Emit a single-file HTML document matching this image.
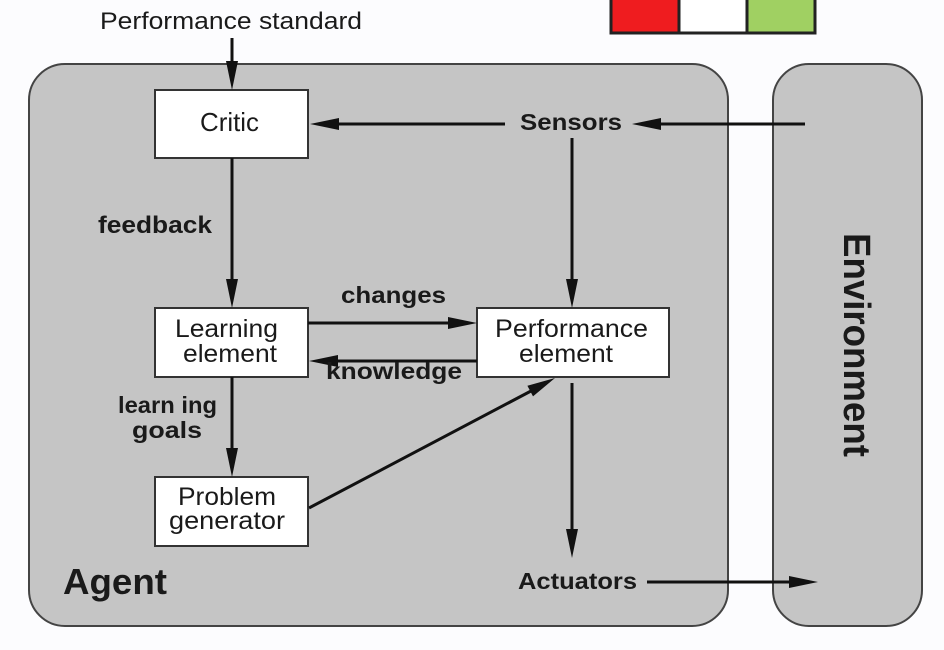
<!DOCTYPE html>
<html><head><meta charset="utf-8"><style>
html,body{margin:0;padding:0;background:#fcfcfe;}
svg{display:block;}
text{font-family:"Liberation Sans",Arial,sans-serif;fill:#1a1a1a;}
.b{font-weight:bold;}
</style></head><body>
<svg width="944" height="650" viewBox="0 0 944 650" xmlns="http://www.w3.org/2000/svg">
<rect x="0" y="0" width="944" height="650" fill="#fcfcfe"/>
<!-- swatches -->
<rect x="611" y="-3" width="68" height="36" fill="#ef1c1f" stroke="#222" stroke-width="3"/>
<rect x="679" y="-3" width="68" height="36" fill="#ffffff" stroke="#222" stroke-width="3"/>
<rect x="747" y="-3" width="68" height="36" fill="#a0d062" stroke="#222" stroke-width="3"/>
<!-- big boxes -->
<rect x="29" y="64" width="699" height="562" rx="36" ry="36" fill="#c5c5c5" stroke="#444" stroke-width="2"/>
<rect x="773" y="64" width="149" height="562" rx="36" ry="36" fill="#c5c5c5" stroke="#444" stroke-width="2"/>
<!-- node boxes -->
<rect x="155" y="90" width="153" height="68" fill="#fff" stroke="#333" stroke-width="2"/>
<rect x="155" y="308" width="153" height="69" fill="#fff" stroke="#333" stroke-width="2"/>
<rect x="155" y="477" width="153" height="69" fill="#fff" stroke="#333" stroke-width="2"/>
<rect x="477" y="308" width="192" height="69" fill="#fff" stroke="#333" stroke-width="2"/>
<!-- lines -->
<g stroke="#111" stroke-width="3" fill="none">
<line x1="232" y1="38" x2="232" y2="66"/>
<line x1="232" y1="158" x2="232" y2="284"/>
<line x1="232" y1="377" x2="232" y2="452"/>
<line x1="805" y1="124" x2="656" y2="124"/>
<line x1="505" y1="124" x2="334" y2="124"/>
<line x1="572" y1="138" x2="572" y2="284"/>
<line x1="308" y1="323" x2="453" y2="323"/>
<line x1="477" y1="361" x2="333" y2="361"/>
<line x1="309" y1="508" x2="531" y2="391"/>
<line x1="572" y1="383" x2="572" y2="534"/>
<line x1="647" y1="582" x2="794" y2="582"/>
</g>
<!-- arrowheads -->
<g fill="#111">
<polygon points="232,90 226,61 238,61"/>
<polygon points="232,308 226,279 238,279"/>
<polygon points="232,477 226,448 238,448"/>
<polygon points="632,124 661,118 661,130"/>
<polygon points="310,124 339,118 339,130"/>
<polygon points="572,308 566,279 578,279"/>
<polygon points="477,323 448,317 448,329"/>
<polygon points="309,361 338,355 338,367"/>
<polygon points="555,378 527.4,385.8 533.0,396.4"/>
<polygon points="572,558 566,529 578,529"/>
<polygon points="818,582 789,576 789,588"/>
</g>
<!-- text -->
<text x="100" y="29" font-size="24" textLength="262" lengthAdjust="spacingAndGlyphs">Performance standard</text>
<text x="200" y="131" font-size="26" textLength="59" lengthAdjust="spacingAndGlyphs">Critic</text>
<text class="b" x="520" y="130" font-size="23" textLength="102" lengthAdjust="spacingAndGlyphs">Sensors</text>
<text class="b" x="98" y="233" font-size="24" textLength="114" lengthAdjust="spacingAndGlyphs">feedback</text>
<text x="175" y="337" font-size="25" textLength="103" lengthAdjust="spacingAndGlyphs">Learning</text>
<text x="183" y="362" font-size="25" textLength="94" lengthAdjust="spacingAndGlyphs">element</text>
<text class="b" x="341" y="303" font-size="23" textLength="105" lengthAdjust="spacingAndGlyphs">changes</text>
<text x="495" y="337" font-size="25" textLength="153" lengthAdjust="spacingAndGlyphs">Performance</text>
<text x="519" y="362" font-size="25" textLength="94" lengthAdjust="spacingAndGlyphs">element</text>
<text class="b" x="326" y="379" font-size="23" textLength="136" lengthAdjust="spacingAndGlyphs">knowledge</text>
<text class="b" x="118" y="413" font-size="23" textLength="99" lengthAdjust="spacingAndGlyphs">learn ing</text>
<text class="b" x="132" y="438" font-size="23" textLength="70" lengthAdjust="spacingAndGlyphs">goals</text>
<text x="178" y="505" font-size="25" textLength="98" lengthAdjust="spacingAndGlyphs">Problem</text>
<text x="169" y="529" font-size="25" textLength="116" lengthAdjust="spacingAndGlyphs">generator</text>
<text class="b" x="518" y="589" font-size="23" textLength="119" lengthAdjust="spacingAndGlyphs">Actuators</text>
<text class="b" x="63" y="594" font-size="36" textLength="104" lengthAdjust="spacingAndGlyphs">Agent</text>
<text class="b" x="844" y="233" font-size="38" textLength="224" lengthAdjust="spacingAndGlyphs" transform="rotate(90 844 233)">Environment</text>
</svg>
</body></html>
